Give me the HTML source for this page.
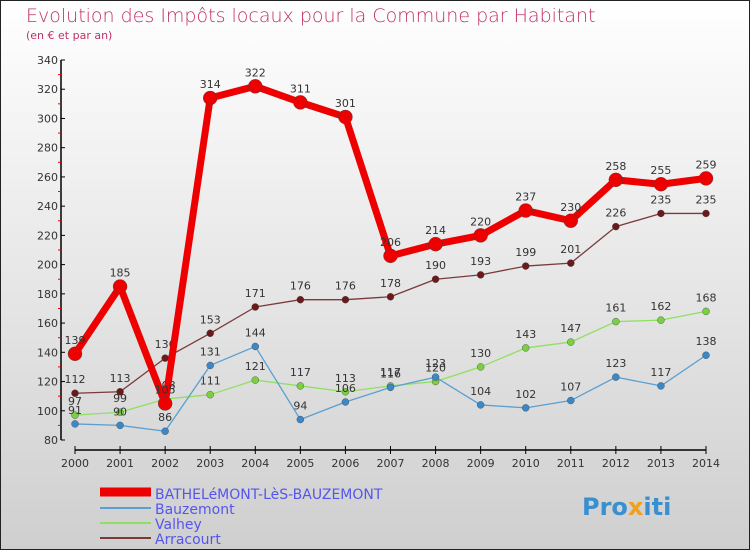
<!DOCTYPE html>
<html><head><meta charset="utf-8"><style>
html,body{margin:0;padding:0}
body{width:750px;height:550px;overflow:hidden;font-family:"DejaVu Sans","Liberation Sans",sans-serif}
svg text{font-family:"DejaVu Sans","Liberation Sans",sans-serif}
</style></head><body>
<svg id="chart" width="750" height="550" viewBox="0 0 750 550">
<defs><linearGradient id="bg" x1="0" y1="0" x2="0" y2="1"><stop offset="0" stop-color="#ffffff"/><stop offset="1" stop-color="#cfcfcf"/></linearGradient></defs>
<rect x="0.5" y="0.5" width="749" height="549" fill="url(#bg)" stroke="#222"/>
<text x="26" y="22" font-size="19" fill="#c0306a" font-weight="200">Evolution des Impôts locaux pour la Commune par Habitant</text>
<text x="26" y="39" font-size="11" fill="#c0306a">(en € et par an)</text>
<g id="axes"></g>
<g id="series"></g>
<g id="legend">
<line x1="100" y1="492" x2="151" y2="492" stroke="#e00" stroke-width="9"/>
<text x="155" y="499" font-size="14" fill="#5555ee">BATHELéMONT-LèS-BAUZEMONT</text>
<line x1="100" y1="508" x2="151" y2="508" stroke="#5a9fd0" stroke-width="2"/>
<text x="155" y="514" font-size="14" fill="#5555ee">Bauzemont</text>
<line x1="100" y1="523" x2="151" y2="523" stroke="#8fe060" stroke-width="2"/>
<text x="155" y="529" font-size="14" fill="#5555ee">Valhey</text>
<line x1="100" y1="538" x2="151" y2="538" stroke="#7a3a3a" stroke-width="2"/>
<text x="155" y="544" font-size="14" fill="#5555ee">Arracourt</text>
</g>
<text x="582" y="515" font-size="24" font-weight="bold" fill="#3a8fd0">Pro<tspan fill="#f0a020">x</tspan>iti</text>
</svg>
<script>
const years=[2000,2001,2002,2003,2004,2005,2006,2007,2008,2009,2010,2011,2012,2013,2014];
const mainVals=[139,185,105,314,322,311,301,206,214,220,237,230,258,255,259];
const bauzVals=[91,90,86,131,144,94,106,116,123,104,102,107,123,117,138];
const valhVals=[97,99,108,111,121,117,113,117,120,130,143,147,161,162,168];
const arraVals=[112,113,136,153,171,176,176,178,190,193,199,201,226,235,235];
const yTicks=[80,100,120,140,160,180,200,220,240,260,280,300,320,340];
const NS="http://www.w3.org/2000/svg";
const x=i=>75+i*(706-75)/(years.length-1);
const y=v=>440-(v-80)*(380/260);
function mk(t,a,p){const e=document.createElementNS(NS,t);for(const k in a)e.setAttribute(k,a[k]);p.appendChild(e);return e;}
const ax=document.getElementById('axes');
const yl=mk('line',{x1:61,y1:60,x2:61,y2:440,stroke:'#000','stroke-width':1.5},ax);


const xl=mk('line',{x1:75,y1:450,x2:706,y2:450,stroke:'#000','stroke-width':1.5},ax);


yTicks.forEach((t,i)=>{
 mk('line',{x1:61,y1:y(t),x2:65,y2:y(t),stroke:'#000'},ax);
 if(i<yTicks.length-1) mk('line',{x1:58,y1:y(t+10),x2:61,y2:y(t+10),stroke:'#e00'},ax);
 const tx=mk('text',{x:58,y:y(t)+4,'font-size':11,fill:'#333','text-anchor':'end'},ax);tx.textContent=t;
 
 
});
years.forEach((yr,i)=>{
 mk('line',{x1:x(i),y1:446,x2:x(i),y2:454,stroke:'#000'},ax);
 const tx=mk('text',{x:x(i),y:467,'font-size':11,fill:'#333','text-anchor':'middle'},ax);tx.textContent=yr;
 
 
});
const sg=document.getElementById('series');
function series(vals,color,w,r,name,dot){
 const g=mk('g',{},sg);
 
 
 const pl=mk('polyline',{points:vals.map((v,i)=>x(i)+','+y(v)).join(' '),fill:'none',stroke:color,'stroke-width':w,'stroke-linejoin':'round'},g);
 
 
 vals.forEach((v,i)=>{
  const c=mk('circle',{cx:x(i),cy:y(v),r:r,fill:dot,stroke:'#444','stroke-width':0.4},g);
  
  
  const t=mk('text',{x:x(i),y:y(v)-10,'font-size':11,fill:'#333','text-anchor':'middle'},g);t.textContent=v;
  
  
 });
}
series(arraVals,'#7a3a3a',1.3,3.5,'arracourt-series','#6a1a1a');
series(valhVals,'#8fe060',1.3,3.5,'valhey-series','#7ad040');
series(bauzVals,'#5a9fd0',1.3,3.5,'bauzemont-series','#3a88c8');
series(mainVals,'#ee0000',7,7,'main-series','#ee0000');
</script>
</body></html>
